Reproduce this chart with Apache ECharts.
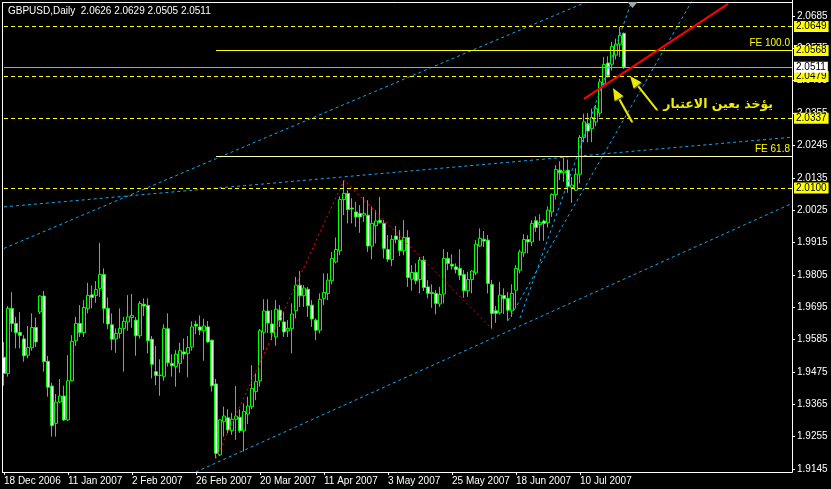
<!DOCTYPE html>
<html><head><meta charset="utf-8">
<script src="https://cdn.jsdelivr.net/npm/echarts@6/dist/echarts.min.js"></script>
<style>html,body{margin:0;padding:0;background:#000;}#c{width:831px;height:489px;}</style>
</head><body><div id="c"></div>
<script>
// ---- data (GBPUSD Daily) ----
const open = [1.9525,1.9470,1.9691,1.9640,1.9609,1.9587,1.9532,1.9557,1.9626,1.9679,1.9733,1.9511,1.9427,1.9300,1.9373,1.9393,1.9312,1.9445,1.9581,1.9640,1.9609,1.9691,1.9737,1.9735,1.9759,1.9806,1.9691,1.9635,1.9587,1.9606,1.9623,1.9645,1.9660,1.9651,1.9598,1.9705,1.9701,1.9586,1.9476,1.9463,1.9460,1.9622,1.9504,1.9493,1.9504,1.9543,1.9538,1.9560,1.9637,1.9628,1.9615,1.9628,1.9583,1.9434,1.9193,1.9306,1.9319,1.9275,1.9314,1.9321,1.9275,1.9332,1.9357,1.9408,1.9445,1.9610,1.9682,1.9638,1.9594,1.9685,1.9645,1.9615,1.9623,1.9683,1.9770,1.9734,1.9756,1.9702,1.9651,1.9617,1.9725,1.9742,1.9785,1.9849,1.9887,2.0061,2.0082,2.0032,2.0019,2.0014,2.0008,2.0008,1.9903,1.9972,1.9991,1.9980,1.9891,1.9857,1.9937,1.9923,1.9887,1.9932,1.9790,1.9813,1.9789,1.9855,1.9764,1.9745,1.9742,1.9706,1.9740,1.9861,1.9841,1.9832,1.9827,1.9806,1.9751,1.9789,1.9812,1.9903,1.9926,1.9923,1.9772,1.9683,1.9676,1.9735,1.9725,1.9683,1.9753,1.9821,1.9880,1.9925,1.9917,1.9989,1.9976,1.9988,1.9982,2.0019,2.0078,2.0161,2.0152,2.0161,2.0102,2.0093,2.0147,2.0272,2.0319,2.0302,2.0325,2.0355,2.0455,2.0525,2.0521,2.0552,2.0589,2.0626];
const high = [1.9577,1.9699,1.9746,1.9662,1.9678,1.9600,1.9631,1.9674,1.9660,1.9736,1.9750,1.9529,1.9438,1.9400,1.9451,1.9428,1.9532,1.9600,1.9662,1.9702,1.9719,1.9778,1.9769,1.9784,1.9914,1.9827,1.9728,1.9674,1.9623,1.9691,1.9662,1.9736,1.9740,1.9662,1.9716,1.9725,1.9725,1.9597,1.9563,1.9518,1.9637,1.9674,1.9535,1.9549,1.9574,1.9589,1.9597,1.9647,1.9649,1.9667,1.9656,1.9648,1.9585,1.9451,1.9315,1.9357,1.9348,1.9336,1.9427,1.9348,1.9368,1.9391,1.9498,1.9470,1.9621,1.9722,1.9722,1.9685,1.9719,1.9702,1.9679,1.9651,1.9708,1.9798,1.9818,1.9770,1.9764,1.9719,1.9657,1.9742,1.9810,1.9810,1.9883,1.9932,2.0072,2.0127,2.0093,2.0065,2.0053,2.0042,2.0070,2.0059,2.0038,2.0025,2.0070,1.9991,1.9940,1.9940,1.9971,1.9957,1.9991,1.9957,1.9838,1.9844,1.9866,1.9869,1.9787,1.9773,1.9753,1.9764,1.9892,1.9883,1.9875,1.9844,1.9892,1.9821,1.9815,1.9821,1.9923,1.9963,1.9954,1.9940,1.9787,1.9699,1.9781,1.9759,1.9746,1.9773,1.9838,1.9891,1.9943,1.9940,1.9991,2.0004,2.0011,1.9993,2.0038,2.0082,2.0178,2.0191,2.0204,2.0197,2.0138,2.0167,2.0280,2.0353,2.0355,2.0370,2.0382,2.0472,2.0546,2.0548,2.0597,2.0608,2.0649,2.0629];
const low = [1.9428,1.9459,1.9611,1.9555,1.9555,1.9510,1.9521,1.9547,1.9560,1.9672,1.9476,1.9391,1.9255,1.9255,1.9368,1.9308,1.9308,1.9443,1.9563,1.9594,1.9594,1.9674,1.9691,1.9710,1.9730,1.9640,1.9620,1.9549,1.9540,1.9589,1.9476,1.9615,1.9625,1.9530,1.9589,1.9665,1.9538,1.9453,1.9430,1.9394,1.9445,1.9493,1.9459,1.9425,1.9472,1.9518,1.9457,1.9547,1.9603,1.9600,1.9513,1.9574,1.9408,1.9181,1.9189,1.9255,1.9266,1.9261,1.9244,1.9268,1.9204,1.9298,1.9348,1.9379,1.9425,1.9549,1.9607,1.9583,1.9564,1.9628,1.9594,1.9594,1.9538,1.9657,1.9696,1.9696,1.9662,1.9628,1.9583,1.9606,1.9702,1.9719,1.9773,1.9844,1.9872,2.0008,1.9980,1.9980,1.9968,1.9948,1.9985,1.9883,1.9858,1.9912,1.9980,1.9861,1.9849,1.9835,1.9912,1.9869,1.9872,1.9764,1.9751,1.9773,1.9742,1.9750,1.9725,1.9693,1.9671,1.9696,1.9708,1.9821,1.9823,1.9810,1.9787,1.9727,1.9730,1.9742,1.9804,1.9900,1.9900,1.9742,1.9622,1.9642,1.9670,1.9672,1.9649,1.9662,1.9691,1.9810,1.9866,1.9878,1.9903,1.9951,1.9921,1.9921,1.9966,2.0002,2.0061,2.0127,2.0121,2.0084,2.0050,2.0090,2.0116,2.0256,2.0256,2.0256,2.0310,2.0342,2.0444,2.0476,2.0500,2.0537,2.0546,2.0505];
const close = [1.9470,1.9691,1.9640,1.9608,1.9599,1.9530,1.9558,1.9626,1.9577,1.9733,1.9510,1.9423,1.9292,1.9372,1.9393,1.9312,1.9445,1.9579,1.9640,1.9609,1.9694,1.9735,1.9728,1.9755,1.9806,1.9691,1.9638,1.9586,1.9606,1.9623,1.9647,1.9662,1.9667,1.9598,1.9708,1.9699,1.9581,1.9501,1.9463,1.9464,1.9622,1.9506,1.9496,1.9535,1.9547,1.9536,1.9558,1.9628,1.9631,1.9617,1.9631,1.9577,1.9428,1.9198,1.9312,1.9325,1.9278,1.9314,1.9325,1.9275,1.9340,1.9359,1.9419,1.9442,1.9615,1.9682,1.9641,1.9608,1.9688,1.9651,1.9611,1.9623,1.9672,1.9770,1.9734,1.9760,1.9700,1.9655,1.9617,1.9721,1.9745,1.9787,1.9861,1.9891,2.0061,2.0082,2.0027,2.0029,2.0002,2.0002,2.0014,1.9903,1.9980,1.9988,1.9982,1.9895,1.9858,1.9925,1.9925,1.9887,1.9932,1.9796,1.9813,1.9785,1.9855,1.9762,1.9742,1.9742,1.9708,1.9738,1.9861,1.9844,1.9835,1.9823,1.9804,1.9751,1.9789,1.9818,1.9909,1.9929,1.9920,1.9776,1.9674,1.9674,1.9736,1.9724,1.9685,1.9742,1.9827,1.9883,1.9925,1.9917,1.9980,1.9966,1.9983,1.9980,2.0025,2.0078,2.0163,2.0152,2.0158,2.0106,2.0110,2.0147,2.0272,2.0325,2.0294,2.0340,2.0370,2.0461,2.0520,2.0483,2.0582,2.0589,2.0619,2.0511];

const dateTicks = ['18 Dec 2006','11 Jan 2007','2 Feb 2007','26 Feb 2007','20 Mar 2007','11 Apr 2007','3 May 2007','25 May 2007','18 Jun 2007','10 Jul 2007'];
const priceTicks = [1.9145,1.9255,1.9365,1.9475,1.9585,1.9695,1.9805,1.9915,2.0025,2.0135,2.0245,2.0355,2.0465,2.0575,2.0685];

const dashedLevels = [2.0649, 2.0479, 2.0337, 2.0100];
const fe100 = 2.0568, fe618 = 2.0207, bid = 2.0511;
const feZigzag = [[53,1.9181],[85,2.0127],[122,1.9622]];
const cyanA = [[0,1.9895],[150,2.0758]];
const cyanB = [[0,2.0036],[197,2.0273]];
const cyanC = [[48,1.9135],[197,2.0048]];
const cyanS1 = [[126,1.9649],[173,2.0760]];
const cyanS0 = [[129,1.9658],[157,2.0738]];
const redLine = [[145,2.0403],[181,2.0726]];

// ---- categories: trading days ----
const holidays = ['2006-12-25','2007-01-01'];
const dates = [];
{
  const d = new Date(Date.UTC(2006,11,18));
  while (dates.length < 198) {
    const wd = d.getUTCDay(), iso = d.toISOString().slice(0,10);
    if (wd !== 0 && wd !== 6 && holidays.indexOf(iso) < 0) dates.push(iso);
    d.setUTCDate(d.getUTCDate()+1);
  }
}
const candles = open.map((o,i)=>[o, close[i], low[i], high[i]]);
const tickInt = (idx)=> idx % 16 === 0 && idx/16 < dateTicks.length;
const FONT = 'Liberation Sans';
const CLEAR = 'rgba(0,0,0,0)';

const box = (v,bg)=>({show:true, position:'end', distance:2, formatter:v.toFixed(4), backgroundColor:bg, color:'#000', padding:[1,2,0,2], fontSize:10, fontFamily:FONT});

const markData = dashedLevels.map(v=>({yAxis:v, lineStyle:{color:'#ffff00', type:[4,3], width:1}, label:box(v,'#ffff00')}));
markData.push({yAxis:fe100, lineStyle:{color:CLEAR, width:1}, label:box(fe100,'#ffff00')});
markData.push([{coord:[53,fe100], lineStyle:{color:'#ffff00', type:'solid', width:1}, label:{show:true, position:'insideEndTop', distance:2, formatter:'FE 100.0', color:'#ffff00', fontSize:10, fontFamily:FONT}},{coord:[197,fe100]}]);
markData.push([{coord:[53,fe618], lineStyle:{color:'#ffffb0', type:'solid', width:1}, label:{show:true, position:'insideEndTop', distance:2, formatter:'FE 61.8', color:'#ffff00', fontSize:10, fontFamily:FONT}},{coord:[197,fe618]}]);
markData.push({yAxis:bid, lineStyle:{color:'#9aa6b2', type:'solid', width:1}, label:box(bid,'#ffffff')});

const cyanStyle = {color:'#14a8f0', width:1, type:[3,3]};
const lineSeries = (data, style, z)=>({type:'line', data, symbol:'none', lineStyle:style, z:z||3, silent:true, clip:true});

const arrow = (tx,ty,hx,hy)=>{
  const dx=hx-tx, dy=hy-ty, L=Math.hypot(dx,dy), ux=dx/L, uy=dy/L, px=-uy, py=ux;
  const bx=hx-12*ux, by=hy-12*uy;
  return [
    {type:'line', shape:{x1:tx,y1:ty,x2:bx,y2:by}, style:{stroke:'#e8e800', lineWidth:2, shadowColor:'rgba(90,90,90,0.9)', shadowOffsetX:1, shadowOffsetY:1}, z:50},
    {type:'polygon', shape:{points:[[hx,hy],[bx+5*px,by+5*py],[bx-5*px,by-5*py]]}, style:{fill:'#e8e800', shadowColor:'rgba(90,90,90,0.9)', shadowOffsetX:1, shadowOffsetY:1}, z:50}
  ];
};

const option = {
  backgroundColor:'#000',
  animation:false,
  grid:{left:4, top:2, width:788, height:470},
  xAxis:{type:'category', data:dates, boundaryGap:false,
    axisLine:{show:false}, splitLine:{show:false},
    axisTick:{show:true, interval:tickInt, length:3, lineStyle:{color:'#fff'}},
    axisLabel:{show:true, interval:tickInt, align:'left', margin:4, color:'#fff', fontSize:10, fontFamily:FONT,
      formatter:(v,i)=>dateTicks[i/16] || ''}},
  yAxis:{type:'value', position:'right', min:1.91348, max:2.07326,
    axisLine:{show:false}, splitLine:{show:false},
    axisTick:{show:true, customValues:priceTicks, length:3, lineStyle:{color:'#fff'}},
    axisLabel:{show:true, customValues:priceTicks, margin:5, color:'#fff', fontSize:10, fontFamily:FONT, formatter:v=>v.toFixed(4)}},
  series:[
    {type:'line', data:[], symbol:'none', z:1, silent:true,
      markLine:{silent:true, precision:4, symbol:['none','none'], animation:false, data:markData}},
    {type:'candlestick', data:candles, barWidth:3, z:2, silent:true,
      itemStyle:{color:'#000', color0:'#fff', borderColor:'#00ff00', borderColor0:'#00ff00', borderColorDoji:'#00ff00', borderWidth:1}},
    lineSeries(feZigzag, {color:'#ff0000', width:1, type:[2,3]}, 4),
    lineSeries(cyanA, cyanStyle),
    lineSeries(cyanB, cyanStyle),
    lineSeries(cyanC, cyanStyle),
    lineSeries(cyanS1, cyanStyle),
    lineSeries(cyanS0, cyanStyle),
    lineSeries(redLine, {color:'#ff0000', width:2, type:'solid'}, 5)
  ],
  graphic:[
    {type:'line', shape:{x1:2.5,y1:2,x2:2.5,y2:472.5}, style:{stroke:'#fff', lineWidth:1}, z:60},
    {type:'line', shape:{x1:2,y1:472.5,x2:792.5,y2:472.5}, style:{stroke:'#fff', lineWidth:1}, z:60},
    {type:'line', shape:{x1:792.5,y1:0,x2:792.5,y2:472.5}, style:{stroke:'#fff', lineWidth:1}, z:60},
    {type:'line', shape:{x1:2,y1:2.5,x2:792.5,y2:2.5}, style:{stroke:'#fff', lineWidth:1}, z:60},
    {type:'polygon', shape:{points:[[627.5,2],[637.5,2],[632.5,8]]}, style:{fill:'#a8a8a8'}, z:61},
    {type:'text', x:8, y:11, style:{text:'GBPUSD,Daily  2.0626 2.0629 2.0505 2.0511', fill:'#fff', font:'10px '+FONT, textVerticalAlign:'middle'}, z:62},
    ...arrow(632,122,613,88),
    ...arrow(657,110,630,76),
    {type:'text', x:773, y:105, style:{text:'يؤخذ بعين الاعتبار', fill:'#f0f000', font:'bold 12.5px "DejaVu Sans"', textAlign:'right', textVerticalAlign:'middle', shadowColor:'rgba(120,120,120,0.9)', shadowOffsetX:1, shadowOffsetY:1}, z:62}
  ]
};
const chart = echarts.init(document.getElementById('c'), null, {renderer:'canvas'});
chart.setOption(option);
</script></body></html>
